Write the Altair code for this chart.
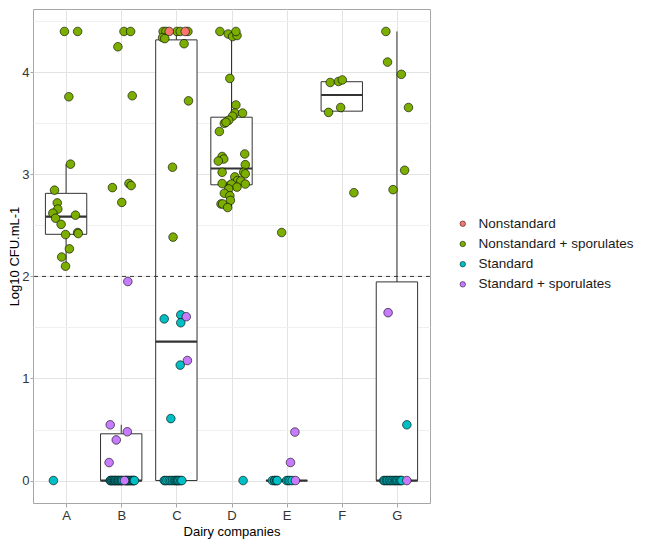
import altair as alt
import pandas as pd

companies = ["A", "B", "C", "D", "E", "F", "G"]
categories = ["Nonstandard", "Nonstandard + sporulates", "Standard", "Standard + sporulates"]
palette = ["#F8766D", "#7CAE00", "#00BFC4", "#C77CFF"]
threshold = 2
y_major = [0, 1, 2, 3, 4]
y_minor = [0.5, 1.5, 2.5, 3.5, 4.5]

# type codes: N = Nonstandard, NS = Nonstandard + sporulates, S = Standard, SS = Standard + sporulates
A_values = [4.4, 4.4, 3.76, 3.10, 2.845, 2.72, 2.66, 2.62, 2.57, 2.60, 2.51, 2.41, 2.43, 2.42, 2.27, 2.19, 2.10, 0]
A_types = ["NS"] * 17 + ["S"]
A_jitter = [-0.03, 0.21, 0.05, 0.08, -0.21, -0.16, -0.15, -0.24, -0.19, 0.17, -0.09, -0.01, 0.21, 0.22, 0.06, -0.08, -0.01, -0.23]

B_values = [4.4, 4.4, 4.25, 3.77, 2.87, 2.91, 2.89, 2.725,
            1.95, 0.546, 0.478, 0.398, 0.176,
            0, 0, 0, 0, 0, 0, 0, 0, 0, 0, 0, 0, 0, 0, 0, 0, 0, 0, 0, 0, 0, 0, 0, 0, 0, 0, 0, 0,
            0]
B_types = ["NS"] * 8 + ["SS"] * 5 + ["S"] * 28 + ["SS"]
B_jitter = [0.05, 0.17, -0.06, 0.20, -0.16, 0.14, 0.18, 0.01,
            0.12, -0.20, 0.11, -0.09, -0.22,
            -0.20, -0.19, -0.17, -0.16, -0.14, -0.12, -0.11, -0.10, -0.08, -0.06, -0.05, -0.04, -0.02, 0.00,
            0.01, 0.03, 0.08, 0.09, 0.10, 0.12, 0.13, 0.15, 0.17, 0.18, 0.20, 0.22, 0.23, 0.24,
            0.06]

C_values = [4.4, 4.4, 4.4, 4.4, 4.4, 4.4, 4.4, 4.34, 4.33, 4.28, 3.72, 3.07, 2.385,
            1.584, 1.623, 1.546, 1.131, 0.607, 1.605, 1.176,
            0, 0, 0, 0, 0, 0, 0, 0, 0, 0, 0, 0, 0, 0]
C_types = ["NS"] * 5 + ["N"] * 2 + ["NS"] * 6 + ["S"] * 5 + ["SS"] * 2 + ["S"] * 14
C_jitter = [-0.24, -0.19, 0.01, 0.07, 0.21, -0.13, 0.16, -0.25, -0.21, 0.14, 0.22, -0.07, -0.06,
            -0.22, 0.08, 0.08, 0.07, -0.10, 0.18, 0.20,
            -0.22, -0.20, -0.17, -0.13, -0.10, -0.07, -0.04, -0.02, 0.00, 0.02, 0.03, 0.05, 0.08, 0.10]

D_values = [4.4, 4.375, 4.35, 4.36, 4.4, 3.94, 3.68, 3.60, 3.60, 3.57, 3.53, 3.50, 3.51, 3.42,
            3.20, 3.175, 3.15, 3.13, 3.095, 3.02, 3.02, 3.005, 2.975, 2.94, 2.935, 2.91, 2.895,
            2.905, 2.905, 2.875, 2.857, 2.815, 2.79, 2.745, 2.71, 2.71, 2.675, 0]
D_types = ["NS"] * 37 + ["S"]
D_jitter = [-0.21, -0.06, 0.02, 0.10, 0.08, -0.03, 0.08, 0.06, 0.20, 0.02, -0.05, -0.13, -0.10, -0.22,
            0.24, -0.17, -0.14, -0.24, 0.25, -0.17, 0.22, 0.25, 0.06, 0.11, 0.17, -0.17, -0.02,
            0.00, 0.25, 0.10, -0.05, -0.13, -0.03, -0.02, -0.19, -0.16, -0.07, 0.21]

E_values = [2.43, 0.475, 0.177, 0, 0, 0, 0, 0, 0, 0, 0, 0, 0]
E_types = ["NS", "SS", "SS"] + ["S"] * 9 + ["SS"]
E_jitter = [-0.09, 0.15, 0.07, -0.26, -0.22, -0.21, -0.18, -0.17, 0.00, 0.03, 0.06, 0.10, 0.16]

F_values = [3.90, 3.91, 3.925, 3.655, 3.607, 2.82]
F_types = ["NS"] * 6
F_jitter = [-0.21, -0.06, 0.01, -0.02, -0.24, 0.22]

G_values = [4.4, 4.10, 3.98, 3.655, 3.04, 2.85, 1.645, 0.546,
            0, 0, 0, 0, 0, 0, 0, 0, 0, 0, 0, 0, 0, 0, 0, 0]
G_types = ["NS"] * 6 + ["SS", "S"] + ["S"] * 15 + ["SS"]
G_jitter = [-0.20, -0.17, 0.08, 0.21, 0.14, -0.07, -0.16, 0.18,
            -0.24, -0.22, -0.19, -0.17, -0.14, -0.12, -0.09, -0.07, -0.04, -0.02, 0.00, 0.02, 0.05, 0.07, 0.09,
            0.18]

groups = {
    "A": (A_values, A_types, A_jitter),
    "B": (B_values, B_types, B_jitter),
    "C": (C_values, C_types, C_jitter),
    "D": (D_values, D_types, D_jitter),
    "E": (E_values, E_types, E_jitter),
    "F": (F_values, F_types, F_jitter),
    "G": (G_values, G_types, G_jitter),
}
code_map = {"N": categories[0], "NS": categories[1], "S": categories[2], "SS": categories[3]}

rows = []
stats = []
whisk = []
for i, c in enumerate(companies):
    vals, tps, jit = groups[c]
    assert len(vals) == len(tps) == len(jit), c
    for v, t, j in zip(vals, tps, jit):
        rows.append({"company": c, "pos": i + 1 + j, "value": v, "type": code_map[t]})
    s = pd.Series(vals, dtype=float)
    q1, med, q3 = s.quantile([0.25, 0.5, 0.75]).tolist()
    iqr = q3 - q1
    lo = s[s >= q1 - 1.5 * iqr].min()
    hi = s[s <= q3 + 1.5 * iqr].max()
    stats.append({"company": c, "center": i + 1, "left": i + 1 - 0.375, "right": i + 1 + 0.375,
                  "q1": q1, "med": med, "q3": q3})
    whisk.append({"center": i + 1, "a": lo, "b": q1})
    whisk.append({"center": i + 1, "a": q3, "b": hi})

pts = pd.DataFrame(rows)
box = pd.DataFrame(stats)
wdf = pd.DataFrame(whisk)

all_vals = pts["value"]
rng = all_vals.max() - all_vals.min()
y_dom = [all_vals.min() - 0.05 * rng, all_vals.max() + 0.05 * rng]
x_dom = [1 - 0.6, len(companies) + 0.6]

FONT = "Liberation Sans"
x_scale = alt.Scale(domain=x_dom, nice=False, zero=False)
y_scale = alt.Scale(domain=y_dom, nice=False, zero=False)

label_js = "[" + ",".join("'%s'" % c for c in companies) + "]"
x_axis = alt.Axis(
    title="Dairy companies",
    values=list(range(1, len(companies) + 1)),
    labelExpr=label_js + "[datum.value - 1]",
    grid=True, gridColor="#E3E3E3", gridWidth=1,
    tickSize=4, tickColor="#A6A6A6", labelPadding=2, titlePadding=3,
)
y_axis = alt.Axis(
    title="Log10 CFU.mL-1",
    values=sorted(y_major + y_minor),
    labelExpr="datum.value % 1 === 0 ? '' + datum.value : ''",
    grid=True,
    gridColor={"condition": {"test": "datum.value % 1 !== 0", "value": "#F0F0F0"}, "value": "#E3E3E3"},
    tickOpacity={"condition": {"test": "datum.value % 1 !== 0", "value": 0}, "value": 1},
    tickSize=3, tickColor="#A6A6A6", labelPadding=1, titlePadding=0,
)

def X(field):
    return alt.X(field, type="quantitative", scale=x_scale, axis=x_axis)

def Y(field):
    return alt.Y(field, type="quantitative", scale=y_scale, axis=y_axis)

whiskers = alt.Chart(wdf).mark_rule(color="#333333", strokeWidth=1).encode(
    x=X("center"), y=Y("a"), y2="b"
)
boxes = alt.Chart(box).mark_rect(fill="white", stroke="#333333", strokeWidth=1).encode(
    x=X("left"), x2="right", y=Y("q1"), y2="q3"
)
medians = alt.Chart(box).mark_rule(color="#333333", strokeWidth=2.2).encode(
    x=X("left"), x2="right", y=Y("med")
)
thr = alt.Chart(pd.DataFrame({"t": [threshold]})).mark_rule(
    color="#333333", strokeWidth=1, strokeDash=[4, 4]
).encode(y=Y("t"))

points = alt.Chart(pts).mark_circle(size=74, stroke="black", strokeWidth=0.6, opacity=1).encode(
    x=X("pos"),
    y=Y("value"),
    fill=alt.Fill(
        "type:N",
        scale=alt.Scale(domain=categories, range=palette),
        legend=alt.Legend(
            title=None, orient="none", legendX=423, legendY=208,
            symbolType="circle", symbolSize=30, symbolStrokeColor="black",
            symbolStrokeWidth=0.5, symbolOpacity=1,
            labelFont=FONT, labelFontSize=13.5, labelColor="#1A1A1A",
            labelOffset=9, rowPadding=5.2, padding=0,
        ),
    ),
)

chart = alt.layer(whiskers, boxes, medians, thr, points).properties(
    width=397, height=494,
    autosize=alt.AutoSizeParams(type="none"),
    padding={"left": 25, "top": 1, "right": 210, "bottom": 39},
    background="white",
).configure_view(
    stroke="#A6A6A6", strokeWidth=1
).configure_axis(
    domain=False,
    labelFont=FONT, labelFontSize=13, labelColor="#333333",
    titleFont=FONT, titleFontSize=13, titleFontWeight="normal", titleColor="#000000",
)

chart.save("out.html", embed_options={"renderer": "svg", "actions": False})
